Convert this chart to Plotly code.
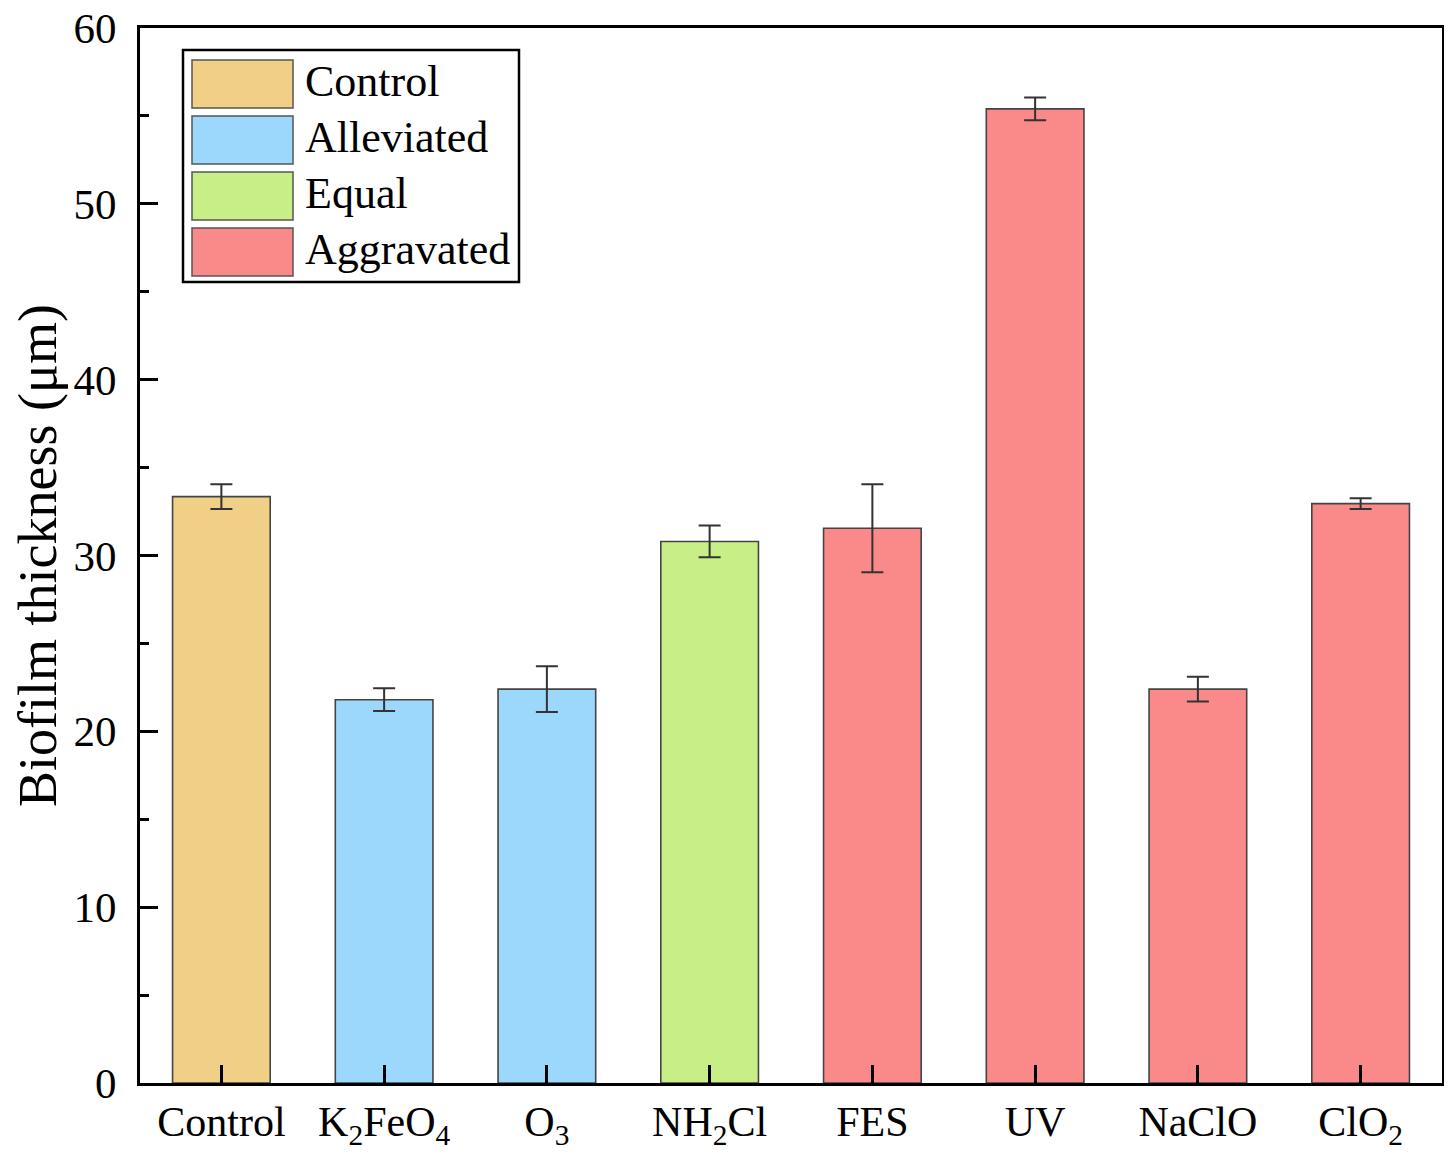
import plotly.graph_objects as go

categories = ["Control", "K2FeO4", "O3", "NH2Cl", "FES", "UV", "NaClO", "ClO2"]
tick_labels = ["Control", "K<sub>2</sub>FeO<sub>4</sub>", "O<sub>3</sub>", "NH<sub>2</sub>Cl",
               "FES", "UV", "NaClO", "ClO<sub>2</sub>"]
thickness = [33.35, 21.8, 22.4, 30.8, 31.55, 55.4, 22.4, 32.95]
errors = [0.7, 0.65, 1.3, 0.9, 2.5, 0.65, 0.7, 0.3]
groups = ["Control", "Alleviated", "Alleviated", "Equal", "Aggravated", "Aggravated", "Aggravated", "Aggravated"]
group_names = ["Control", "Alleviated", "Equal", "Aggravated"]
group_colors = {"Control": "#F0CF87", "Alleviated": "#9BD8FC", "Equal": "#C8EE87", "Aggravated": "#FA8A8A"}

FONT = "Liberation Serif, Times New Roman, serif"
OFF = 8  # page body margin
W, H = 1452 - 2 * OFF, 1159 - 2 * OFF
L, R, T, B = 140 - OFF, 2, 28 - OFF, H - (1083 - OFF)

fig = go.Figure()
for g in group_names:
    xs = [c for c, gg in zip(categories, groups) if gg == g]
    ys = [v for v, gg in zip(thickness, groups) if gg == g]
    es = [e for e, gg in zip(errors, groups) if gg == g]
    fig.add_trace(go.Bar(
        x=xs, y=ys, name=g, width=0.6,
        marker=dict(color=group_colors[g], line=dict(color="#444444", width=1.6)),
        error_y=dict(type="data", array=es, visible=True, color="#333333", thickness=2, width=11),
        showlegend=False,
    ))

# custom legend (paper coordinates from page pixel layout)
pw, ph = W - L - R, H - T - B
def px(x):
    return (x - OFF - L) / pw
def py(y):
    return (H - B - (y - OFF)) / ph

shapes = [dict(type="rect", xref="paper", yref="paper", x0=px(183), x1=px(519), y0=py(282), y1=py(50),
               line=dict(color="black", width=2.5), fillcolor="white", layer="above")]
annotations = []
sw_tops = [60, 116, 172, 228]
for g, top in zip(group_names, sw_tops):
    shapes.append(dict(type="rect", xref="paper", yref="paper", x0=px(192), x1=px(293),
                       y0=py(top + 48), y1=py(top), fillcolor=group_colors[g],
                       line=dict(color="#555555", width=1.5), layer="above"))
    annotations.append(dict(xref="paper", yref="paper", x=px(303), y=py(top + 22), text=g,
                            showarrow=False, xanchor="left", yanchor="middle",
                            font=dict(family=FONT, size=44, color="black")))

fig.update_layout(
    width=W, height=H,
    margin=dict(l=L, r=R, t=T, b=B),
    paper_bgcolor="white", plot_bgcolor="white",
    barmode="overlay",
    shapes=shapes, annotations=annotations,
    font=dict(family=FONT, color="black", size=43),
)
fig.update_xaxes(
    categoryorder="array", categoryarray=categories,
    tickvals=categories, ticktext=tick_labels,
    range=[-0.5, 7.5], automargin=False,
    showline=True, linecolor="black", linewidth=3, mirror=True,
    ticks="inside", ticklen=18, tickwidth=3, tickcolor="black",
    ticklabelstandoff=0, ticklabeloverflow="allow",
    tickfont=dict(family=FONT, size=42, color="black"),
    showgrid=False, zeroline=False,
)
fig.update_yaxes(
    range=[0, 60], tickvals=[0, 10, 20, 30, 40, 50, 60], automargin=False,
    showline=True, linecolor="black", linewidth=3, mirror=True,
    ticks="inside", ticklen=18, tickwidth=3, tickcolor="black",
    minor=dict(ticks="inside", ticklen=9, tickwidth=3, tickcolor="black", dtick=5, showgrid=False),
    ticklabelstandoff=12, ticklabeloverflow="allow",
    tickfont=dict(family=FONT, size=43, color="black"),
    title=dict(text="Biofilm thickness (μm)", font=dict(family=FONT, size=54, color="black"), standoff=31),
    showgrid=False, zeroline=False,
)

fig.write_html("out.html")
